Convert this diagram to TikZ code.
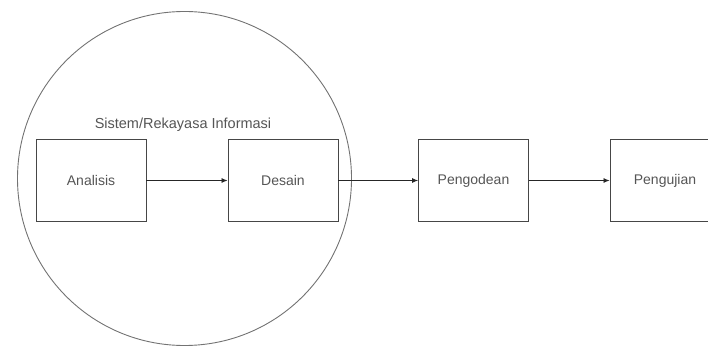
\documentclass[tikz,border=0pt]{standalone}
\usepackage{fontspec}
\setmainfont{Liberation Sans}
\usepackage{xcolor}
\usetikzlibrary{arrows.meta, positioning}
\definecolor{linegray}{RGB}{70, 70, 70}
\definecolor{textgray}{RGB}{85, 85, 85}

\tikzset{
    tahap/.style={
        draw=linegray,
        line width=0.9pt,
        minimum width=110pt,
        minimum height=82pt,
        text=textgray,
        font=\fontsize{14}{16}\selectfont
    },
    alur/.style={
        -{Latex[length=6pt,width=5pt]},
        draw=black!85,
        line width=0.8pt
    }
}

\begin{document}
\begin{tikzpicture}[x=1pt, y=-1pt]
            \useasboundingbox (0,0) rectangle (708,347);
            \clip (0,0) rectangle (708,347);
            % lingkaran sistem
            \node[
                circle,
                draw=black!55,
                line width=0.9pt,
                minimum size=334pt,
                inner sep=0pt
            ] (sistem) at (184.5,178.5) {};
            \node[
                text=textgray,
                font=\fontsize{14.5}{16}\selectfont
            ] (judul) at (183,125) {Sistem/Rekayasa Informasi};
            % tahapan
            \node[tahap] (analisis) at (91,180.5) {Analisis};
            \node[tahap] (desain) at (283,180.5) {Desain};
            \node[tahap] (pengodean) at (473.5,180.5) {Pengodean};
            \node[tahap] (pengujian) at (665,180.5) {Pengujian};
            % panah
            \draw[alur] (analisis) -- (desain);
            \draw[alur] (desain) -- (pengodean);
            \draw[alur] (pengodean) -- (pengujian);
        \end{tikzpicture}
\end{document}
